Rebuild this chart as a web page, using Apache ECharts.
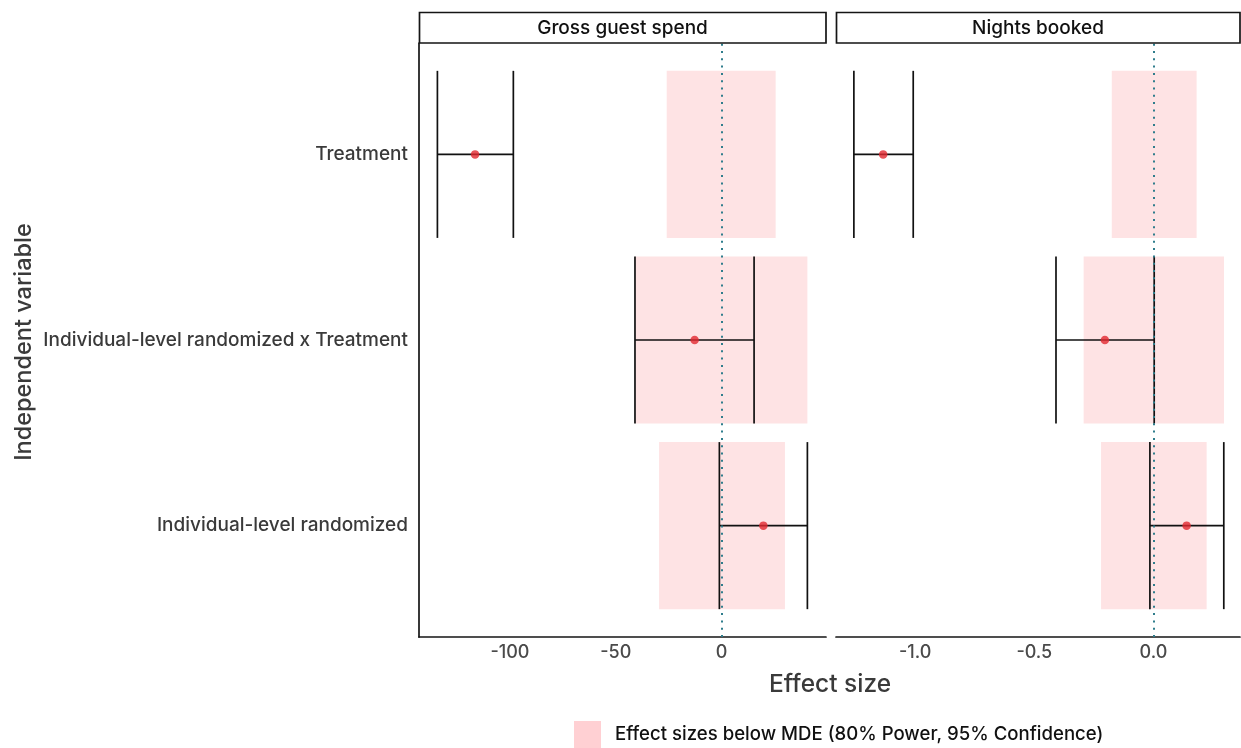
<!DOCTYPE html>
<html>
<head>
<meta charset="utf-8">
<script src="https://cdn.jsdelivr.net/npm/echarts@6/dist/echarts.min.js"></script>
<style>
  html, body { margin: 0; padding: 0; background: #ffffff; }
  #chart { width: 1241px; height: 748px; }
</style>
</head>
<body>
<div id="chart"></div>
<script>
// Regression terms, bottom to top on the y scale (positions 1, 2, 3)
const categories = ['Individual-level randomized', 'Individual-level randomized x Treatment', 'Treatment'];
const categoryPos = [1, 2, 3];
const panels = ['Gross guest spend', 'Nights booked'];

// Gross guest spend: point estimates, 95% interval, and MDE band
const spendEstimate = [19.8, -12.7, -116.5];
const spendLower    = [-1.0, -40.9, -134.3];
const spendUpper    = [40.6, 15.4, -98.4];
const spendMdeLow   = [-29.5, -40.8, -25.9];
const spendMdeHigh  = [30.0, 40.6, 25.6];

// Nights booked: point estimates, 95% interval, and MDE band
const nightsEstimate = [0.139, -0.204, -1.134];
const nightsLower    = [-0.015, -0.409, -1.257];
const nightsUpper    = [0.295, 0.003, -1.008];
const nightsMdeLow   = [-0.220, -0.293, -0.175];
const nightsMdeHigh  = [0.223, 0.296, 0.181];

// Tick labels per panel
const spendTicks = [-100, -50, 0];
const nightsTicks = [-1.0, -0.5, 0.0];

const legendName = 'Effect sizes below MDE (80% Power, 95% Confidence)';
const FONT = 'Inter, "Noto Sans", sans-serif';
const MDE_FILL = '#fee3e4';
const HALF = 0.45;

function rows(a, b) {
  return categoryPos.map((p, i) => [p, a[i], b[i]]);
}

function mdeSeries(idx, lo, hi) {
  return {
    type: 'custom', name: legendName,
    xAxisIndex: idx, yAxisIndex: idx,
    itemStyle: { color: '#ffd0d3' },
    encode: { x: [1, 2], y: 0 },
    data: rows(lo, hi),
    z: 1, silent: true,
    renderItem(params, api) {
      const y = api.value(0);
      const a = api.coord([api.value(1), y + HALF]);
      const b = api.coord([api.value(2), y - HALF]);
      return { type: 'rect', shape: { x: a[0], y: a[1], width: b[0] - a[0], height: b[1] - a[1] }, style: { fill: MDE_FILL } };
    }
  };
}

function errorSeries(idx, lo, hi) {
  return {
    type: 'custom', name: 'ci' + idx,
    xAxisIndex: idx, yAxisIndex: idx,
    encode: { x: [1, 2], y: 0 },
    data: rows(lo, hi),
    z: 2, silent: true,
    renderItem(params, api) {
      const y = api.value(0);
      const l = api.coord([api.value(1), y]);
      const r = api.coord([api.value(2), y]);
      const top = api.coord([api.value(1), y + HALF])[1];
      const bot = api.coord([api.value(1), y - HALF])[1];
      const st = { stroke: '#111111', lineWidth: 1.7 };
      return {
        type: 'group', children: [
          { type: 'line', shape: { x1: l[0], y1: l[1], x2: r[0], y2: r[1] }, style: st },
          { type: 'line', shape: { x1: l[0], y1: top, x2: l[0], y2: bot }, style: st },
          { type: 'line', shape: { x1: r[0], y1: top, x2: r[0], y2: bot }, style: st }
        ]
      };
    }
  };
}

function pointSeries(idx, est) {
  return {
    type: 'scatter', name: 'est' + idx,
    xAxisIndex: idx, yAxisIndex: idx,
    data: categoryPos.map((p, i) => [est[i], p]),
    symbol: 'circle', symbolSize: 8.5,
    itemStyle: { color: '#e2282f' },
    z: 3, silent: true,
    markLine: {
      silent: true, symbol: 'none', z: 5,
      label: { show: false },
      lineStyle: { color: '#2f7d8c', type: [2, 5.3], width: 2 },
      data: [{ xAxis: 0 }]
    }
  };
}

const axisLineStyle = { color: '#151515', width: 1.7 };
const tickLabel = { fontFamily: FONT, fontSize: 18, fontWeight: 500, color: '#4a4a4a', margin: 7 };

const option = {
  animation: false,
  backgroundColor: '#ffffff',
  grid: [
    { left: 419, right: 1241 - 826, top: 43, bottom: 748 - 637 },
    { left: 836, right: 1, top: 43, bottom: 748 - 637 }
  ],
  xAxis: [
    {
      gridIndex: 0, type: 'value', min: -143, max: 49.4,
      axisLine: { show: true, onZero: false, lineStyle: axisLineStyle },
      axisTick: { show: false }, splitLine: { show: false },
      axisLabel: Object.assign({ customValues: spendTicks, formatter: v => String(v) }, tickLabel)
    },
    {
      gridIndex: 1, type: 'value', min: -1.332, max: 0.363,
      axisLine: { show: true, onZero: false, lineStyle: axisLineStyle },
      axisTick: { show: false }, splitLine: { show: false },
      axisLabel: Object.assign({ customValues: nightsTicks, formatter: v => v.toFixed(1) }, tickLabel)
    }
  ],
  yAxis: [
    {
      gridIndex: 0, type: 'value', min: 0.4, max: 3.6,
      axisLine: { show: true, onZero: false, lineStyle: axisLineStyle },
      axisTick: { show: false }, splitLine: { show: false },
      axisLabel: {
        customValues: categoryPos, formatter: v => categories[Math.round(v) - 1],
        fontFamily: FONT, fontSize: 19, fontWeight: 500, color: '#3a3a3a', margin: 11
      }
    },
    {
      gridIndex: 1, type: 'value', min: 0.4, max: 3.6,
      axisLine: { show: false }, axisTick: { show: false },
      splitLine: { show: false }, axisLabel: { show: false }
    }
  ],
  legend: {
    data: [legendName],
    left: 574, top: 721, padding: 0,
    itemWidth: 27, itemHeight: 27, icon: 'rect',
    selectedMode: false,
    textStyle: { fontFamily: FONT, fontSize: 18.6, fontWeight: 500, color: '#111111', padding: [3, 0, 0, 9] }
  },
  graphic: [
    { type: 'rect', shape: { x: 419.5, y: 12.5, width: 406.5, height: 30.5 }, style: { fill: '#ffffff', stroke: '#151515', lineWidth: 1.7 }, z: 10 },
    { type: 'text', x: 622.5, y: 28, style: { text: panels[0], fontFamily: FONT, fontSize: 19, fontWeight: 500, fill: '#111111', align: 'center', verticalAlign: 'middle' }, z: 11 },
    { type: 'rect', shape: { x: 836.5, y: 12.5, width: 403.5, height: 30.5 }, style: { fill: '#ffffff', stroke: '#151515', lineWidth: 1.7 }, z: 10 },
    { type: 'text', x: 1038, y: 28, style: { text: panels[1], fontFamily: FONT, fontSize: 19, fontWeight: 500, fill: '#111111', align: 'center', verticalAlign: 'middle' }, z: 11 },
    { type: 'text', x: 830, y: 685, style: { text: 'Effect size', fontFamily: FONT, fontSize: 24.5, fontWeight: 500, fill: '#3a3a3a', align: 'center', verticalAlign: 'middle' } },
    { type: 'text', x: 24, y: 342, rotation: Math.PI / 2, style: { text: 'Independent variable', fontFamily: FONT, fontSize: 23.5, fontWeight: 500, fill: '#3a3a3a', align: 'center', verticalAlign: 'middle' } }
  ],
  series: [
    mdeSeries(0, spendMdeLow, spendMdeHigh),
    mdeSeries(1, nightsMdeLow, nightsMdeHigh),
    errorSeries(0, spendLower, spendUpper),
    errorSeries(1, nightsLower, nightsUpper),
    pointSeries(0, spendEstimate),
    pointSeries(1, nightsEstimate)
  ]
};

const chart = echarts.init(document.getElementById('chart'), null, { renderer: 'canvas' });
chart.setOption(option);
</script>
</body>
</html>
